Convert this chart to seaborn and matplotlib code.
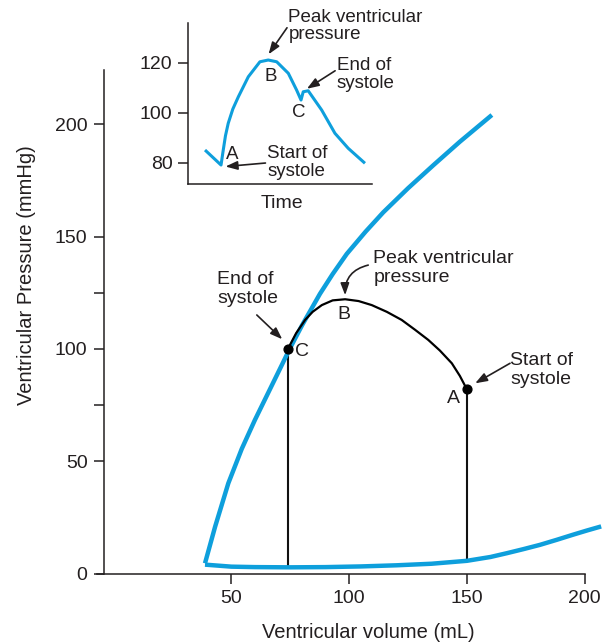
import seaborn as sns
import numpy as np
import pandas as pd
import matplotlib
matplotlib.use('Agg')
import matplotlib.pyplot as plt

# values
# end-systolic pressure-volume line (blue, upper)
espvr_vol = [38.8, 43.1, 48.7, 54.4, 60, 65.7, 71.4, 74.5, 80, 87.6, 93, 99, 107, 114.5, 125, 135.8, 147, 160.6]
espvr_p = [4.6, 20.9, 40.2, 55.5, 68.4, 80.6, 92.8, 99.5, 110.5, 124.5, 133.3, 142.3, 152.2, 160.8, 171.5, 181.8, 192.2, 204.1]
# end-diastolic (filling) curve (blue, lower)
edpvr_vol = [38.8, 50, 60, 75, 90, 105, 120, 135, 150, 160, 167, 174, 181, 188, 195, 201, 207]
edpvr_p = [4, 3.1, 2.9, 2.8, 2.9, 3.2, 3.7, 4.4, 5.7, 7.4, 9.1, 10.9, 12.8, 15.0, 17.3, 19.2, 21.0]
# ejection arc A -> B -> C (black)
arc_vol = [150, 147, 143.6, 138.5, 133.6, 128, 122.3, 116, 109.6, 104, 98.3, 93, 88.4, 84.5, 81.3, 77.5, 74]
arc_p = [82, 88, 93.6, 99.3, 104, 108.5, 112.9, 116.5, 119.5, 121.3, 122.1, 121.6, 119.5, 116.5, 112.9, 107, 100]
# isovolumic segments
iso_vol = [74, 150]
iso_top = [100, 82]
iso_bottom = [2.8, 5.7]

# inset: pressure vs time
t_vals = [9.4, 18.1, 19.3, 20.5, 22.0, 24.5, 27.5, 32.9, 39.2, 43.7, 48.3, 54.6, 59.1, 61.5, 62.7, 65.4, 72.7, 79.9, 87.1, 96.2]
t_press = [85.1, 79.1, 85.1, 90.8, 95.8, 101.5, 106.4, 114.4, 120.4, 121.1, 120.4, 115.8, 109.1, 105.1, 108.4, 108.8, 101.1, 91.8, 85.8, 79.8]

x_ticks = [50, 100, 150, 200]
y_ticks = [0, 50, 75, 100, 125, 150, 200]
y_ticklabels = ['0', '50', '', '100', '', '150', '200']
inset_yticks = [80, 100, 120]

BLUE = '#0e9fdc'
TXT = '#231f20'

sns.set_style('ticks')
plt.rcParams['font.family'] = ['Liberation Sans', 'DejaVu Sans']
plt.rcParams['text.color'] = TXT
plt.rcParams['axes.edgecolor'] = TXT
plt.rcParams['xtick.color'] = TXT
plt.rcParams['ytick.color'] = TXT
plt.rcParams['axes.labelcolor'] = TXT

fig = plt.figure(figsize=(6.07, 6.43), dpi=100)
ax = fig.add_axes([0.160, 0.1079, 0.804, 0.7828])

esp = pd.DataFrame({'vol': espvr_vol, 'p': espvr_p})
edp = pd.DataFrame({'vol': edpvr_vol, 'p': edpvr_p})
arc = pd.DataFrame({'vol': arc_vol, 'p': arc_p})

line_kw = dict(sort=False, solid_joinstyle='round', solid_capstyle='butt')
sns.lineplot(data=edp, x='vol', y='p', color=BLUE, lw=3.2, ax=ax, clip_on=False, zorder=3, **line_kw)
sns.lineplot(data=esp, x='vol', y='p', color=BLUE, lw=3.2, ax=ax, clip_on=False, zorder=3, **line_kw)
ax.vlines(iso_vol, iso_bottom, iso_top, color='#111111', lw=1.5, zorder=2)
sns.lineplot(data=arc, x='vol', y='p', color='black', lw=1.6, ax=ax, zorder=4, **line_kw)
ax.scatter(iso_vol, iso_top, s=40, color='black', zorder=5)

ax.set_xlim(-7, 200.2)
ax.set_ylim(0, 224)
ax.spines['left'].set_position(('data', -4))
ax.spines['top'].set_visible(False)
ax.spines['right'].set_visible(False)
ax.spines['left'].set_linewidth(1.1)
ax.spines['bottom'].set_linewidth(1.1)
ax.set_xticks(x_ticks)
ax.set_yticks(y_ticks)
ax.set_yticklabels(y_ticklabels)
ax.tick_params(length=7, width=1.1, labelsize=14, pad=5)
ax.set_xlabel('Ventricular volume (mL)', fontsize=14.5)
ax.set_ylabel('Ventricular Pressure (mmHg)', fontsize=14.5)
ax.xaxis.label.set_va('center')
ax.xaxis.set_label_coords(0.556, -0.116)
ax.yaxis.label.set_va('center')
ax.yaxis.set_label_coords(-0.145, 0.593)

fs = 14
arr = dict(arrowstyle='-|>,head_length=0.55,head_width=0.2', color=TXT, lw=1.2,
           mutation_scale=13, shrinkA=0, shrinkB=0)
ax.text(43.9, 126.7, 'End of\nsystole', fontsize=fs, va='center', ha='left', linespacing=1.15)
ax.annotate('', xy=(71.6, 104.3), xytext=(60.8, 115.1), arrowprops=arr)
ax.text(79.9, 98.8, 'C', fontsize=fs, va='center', ha='center')
ax.text(97.8, 115.1, 'B', fontsize=fs, va='center', ha='center')
ax.text(110.3, 136, 'Peak ventricular\npressure', fontsize=fs, va='center', ha='left', linespacing=1.15)
ax.annotate('', xy=(98.3, 123.9), xytext=(108.1, 137.3),
            arrowprops=dict(arr, connectionstyle='arc3,rad=0.4'))
ax.text(168.3, 90.6, 'Start of\nsystole', fontsize=fs, va='center', ha='left', linespacing=1.15)
ax.annotate('', xy=(153.5, 84.7), xytext=(168.3, 93.6), arrowprops=arr)
ax.text(144.2, 78.0, 'A', fontsize=fs, va='center', ha='center')

# inset
axi = fig.add_axes([0.3092, 0.7138, 0.3036, 0.2504])
sns.lineplot(x=t_vals, y=t_press, color=BLUE, lw=2.2, ax=axi, **line_kw)
axi.set_xlim(0, 100)
axi.set_ylim(71.5, 135.9)
axi.spines['top'].set_visible(False)
axi.spines['right'].set_visible(False)
axi.spines['left'].set_linewidth(1.1)
axi.spines['bottom'].set_linewidth(1.1)
axi.set_xticks([])
axi.set_yticks(inset_yticks)
axi.tick_params(length=7, width=1.1, labelsize=14, pad=4)
axi.set_xlabel('Time', fontsize=14)
axi.xaxis.label.set_va('center')
axi.xaxis.set_label_coords(0.51, -0.118)
axi.set_ylabel('')

fi = 13.5
axi.text(54.6, 134.7, 'Peak ventricular\npressure', fontsize=fi, va='center', ha='left', linespacing=1.05)
axi.annotate('', xy=(43.9, 123.4), xytext=(53.9, 134.0), arrowprops=arr, annotation_clip=False)
axi.text(44.9, 114.5, 'B', fontsize=fi, va='center', ha='center')
axi.text(80.9, 115.2, 'End of\nsystole', fontsize=fi, va='center', ha='left', linespacing=1.05)
axi.annotate('', xy=(64.7, 109.6), xytext=(80.0, 116.8), arrowprops=arr, annotation_clip=False)
axi.text(60.2, 100.3, 'C', fontsize=fi, va='center', ha='center')
axi.text(24.1, 83.2, 'A', fontsize=fi, va='center', ha='center')
axi.text(43.1, 80.2, 'Start of\nsystole', fontsize=fi, va='center', ha='left', linespacing=1.05)
axi.annotate('', xy=(20.5, 78.5), xytext=(42.2, 79.9), arrowprops=arr, annotation_clip=False)

fig.savefig('out.png', dpi=100)
